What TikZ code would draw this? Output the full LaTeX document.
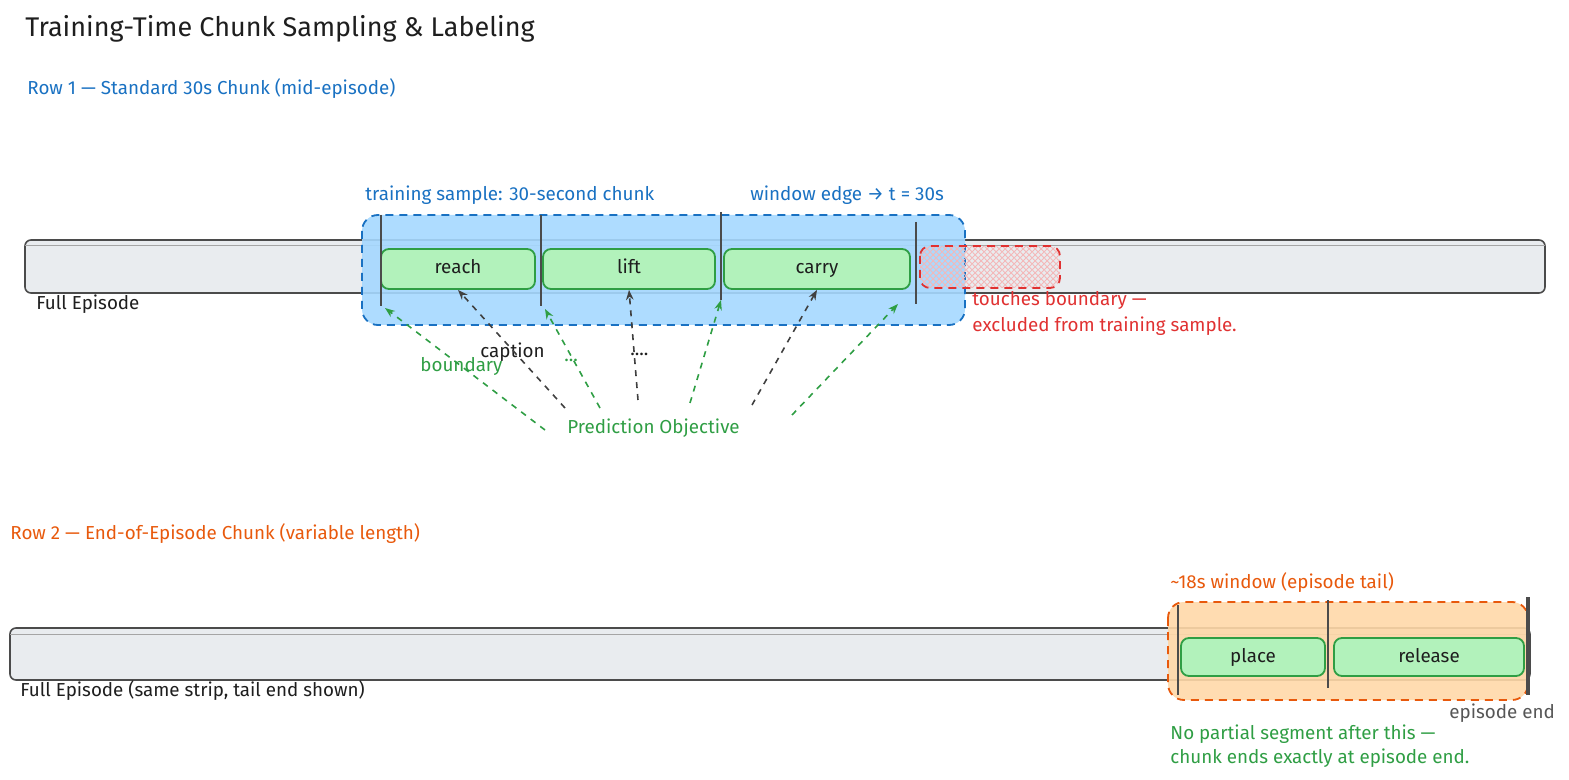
\documentclass[tikz,border=0pt]{standalone}
\usepackage{fontspec}
\setmainfont{Fira Sans}
\usetikzlibrary{patterns,arrows.meta}
\definecolor{bluek}{HTML}{1971C2}
\definecolor{bluef}{HTML}{A5D8FF}
\definecolor{greenk}{HTML}{2F9E44}
\definecolor{greenf}{HTML}{B2F2BB}
\definecolor{orangek}{HTML}{E8590C}
\definecolor{orangef}{HTML}{FFD8A8}
\definecolor{redk}{HTML}{E03131}
\definecolor{stripf}{HTML}{E9ECEF}
\definecolor{ink}{HTML}{1E1E1E}
\begin{document}
\begin{tikzpicture}[x=0.5pt,y=-0.5pt,
  txt/.style={anchor=base west,inner sep=0pt,font=\fontsize{9.4}{10}\selectfont},
  strip/.style={draw=ink!80,fill=stripf,line width=0.8pt,rounded corners=3pt},
  win/.style={dashed,line width=0.9pt,rounded corners=8pt,dash pattern=on 4pt off 3pt},
  seg/.style={draw=greenk,fill=greenf,line width=0.9pt,rounded corners=4pt,font=\fontsize{9.4}{10}\selectfont,text=ink,text height=7pt,text depth=2pt},
  tick/.style={draw=ink!80,line width=0.8pt},
  garr/.style={draw=greenk,dashed,line width=0.8pt,-{Stealth[open,length=5pt]}},
  karr/.style={draw=ink!85,dashed,line width=0.8pt,-{Stealth[open,length=5pt]}}]
\useasboundingbox (0,0) rectangle (1569,780);
\node[txt,font=\fontsize{13.5}{14}\selectfont,text=ink] (title) at (25,37) {Training-Time Chunk Sampling \& Labeling};
\node[txt,text=bluek] (row1) at (27,95) {Row 1 — Standard 30s Chunk (mid-episode)};
% row 1
\draw[strip] (25,240) rectangle (1545,293);
\draw[ink!40,line width=0.5pt] (25,246) -- (1545,246);
\node[txt,text=ink] (fe1) at (36,310) {Full Episode};
\draw[win,draw=bluek,fill=bluef,fill opacity=0.9] (362,215) rectangle (965,325);
\node[seg,minimum width=77pt,minimum height=20pt] (reach) at (458,269) {reach};
\node[seg,minimum width=86pt,minimum height=20pt] (lift) at (629,269) {lift};
\node[seg,minimum width=93pt,minimum height=20pt] (carry) at (817,269) {carry};
\coordinate (b1) at (381,306); \coordinate (b2) at (541,306); \coordinate (b3) at (721,300); \coordinate (b4) at (916,304);
\draw[tick] (381,215) -- (b1); \draw[tick] (541,215) -- (b2); \draw[tick] (721,212) -- (b3); \draw[tick] (916,222) -- (b4);
\draw[redk,dashed,line width=0.9pt,rounded corners=5pt,pattern=crosshatch,pattern color=redk!35,dash pattern=on 4pt off 3pt] (920,246) rectangle (1060,288);
\node[txt,text=bluek] (ts) at (365,201) {training sample: 30-second chunk};
\node[txt,text=bluek] (we) at (750,201) {window edge → t = 30s};
\node[txt,text=redk] (tb1) at (972,306) {touches boundary —};
\node[txt,text=redk] (tb2) at (972,332) {excluded from training sample.};
\node[txt,text=ink] (cap) at (480,358) {caption};
\node[txt,text=greenk] (bd) at (420,372) {boundary};
\node[txt,text=greenk] (dots1) at (564,362) {...};
\node[txt,text=ink] (dots2) at (630,356) {....};
\node[txt,text=greenk] (po) at (567,434) {Prediction Objective};
\coordinate (g1) at (545,430); \coordinate (g2) at (600,408); \coordinate (g3) at (690,403); \coordinate (g4) at (792,415);
\draw[garr] (g1) -- (385,308);
\draw[garr] (g2) -- (545,309);
\draw[garr] (g3) -- (b3);
\draw[garr] (g4) -- (898,304);
\draw[karr] (565,408) -- (reach.south);
\draw[karr] (638,400) -- (lift.south);
\draw[karr] (752,405) -- (carry.south);
% row 2
\node[txt,text=orangek] (row2) at (10,539) {Row 2 — End-of-Episode Chunk (variable length)};
\draw[strip] (10,628) rectangle (1530,680);
\draw[ink!40,line width=0.5pt] (10,634) -- (1530,634);
\node[txt,text=ink] (fe2) at (20,696) {Full Episode (same strip, tail end shown)};
\draw[win,draw=orangek,fill=orangef,fill opacity=0.9] (1168,602) rectangle (1528,700);
\node[seg,minimum width=72pt,minimum height=19pt] (place) at (1253,657) {place};
\node[seg,minimum width=95pt,minimum height=19pt] (release) at (1429,657) {release};
\coordinate (e1) at (1178,695); \coordinate (e2) at (1328,688); \coordinate (e3) at (1528,695);
\draw[tick] (1178,605) -- (e1); \draw[tick] (1328,600) -- (e2); \draw[tick,line width=1.6pt] (1528,597) -- (e3);
\node[txt,text=orangek] (w18) at (1170,588) {\textasciitilde18s window (episode tail)};
\node[txt,text=ink!75] (ee) at (1449,718) {episode end};
\node[txt,text=greenk] (np1) at (1170,739) {No partial segment after this —};
\node[txt,text=greenk] (np2) at (1170,763) {chunk ends exactly at episode end.};
\end{tikzpicture}
\end{document}
